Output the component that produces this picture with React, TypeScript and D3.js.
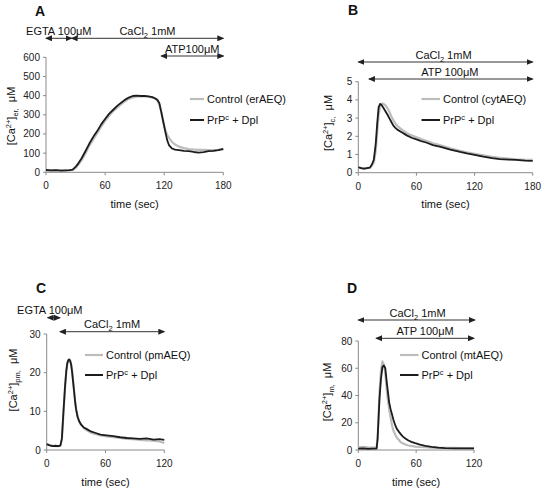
import React from 'react';
import * as d3 from 'd3';

// ---------- DATA ----------
// Panel A: ER calcium
const timeA = [0, 5, 10, 15, 20, 24, 27, 30, 33, 36, 40, 44, 48, 52, 56, 60, 64, 68, 72, 76, 80, 84, 88, 92, 96, 100, 104, 108, 111, 113, 115, 117, 119, 121, 123, 125, 128, 131, 135, 140, 145, 150, 155, 160, 165, 170, 175, 180];
const prpA = [12, 10, 11, 9, 10, 11, 14, 28, 48, 72, 110, 150, 185, 215, 250, 278, 305, 325, 345, 362, 378, 390, 398, 400, 398, 399, 396, 392, 385, 378, 362, 315, 265, 215, 168, 140, 124, 118, 116, 112, 110, 106, 103, 105, 110, 112, 116, 122];
const controlA = [10, 9, 10, 10, 9, 10, 12, 22, 40, 62, 98, 138, 172, 204, 238, 268, 295, 318, 336, 354, 370, 383, 391, 395, 396, 396, 394, 390, 384, 375, 355, 315, 265, 222, 195, 178, 158, 145, 134, 126, 121, 119, 117, 117, 116, 116, 117, 120];

// Panel B: cytosolic calcium
const timeB = [0, 3, 6, 9, 12, 14, 16, 18, 19.5, 21, 22.5, 24, 26, 28, 30, 32, 34, 36, 38, 40, 43, 46, 50, 55, 60, 65, 70, 77, 85, 95, 105, 112, 120, 129, 138, 146, 155, 163, 172, 180];
const prpB = [0.3, 0.25, 0.22, 0.25, 0.28, 0.45, 0.7, 1.6, 2.7, 3.6, 3.78, 3.72, 3.55, 3.38, 3.2, 3.0, 2.8, 2.6, 2.48, 2.38, 2.28, 2.18, 2.05, 1.92, 1.83, 1.74, 1.66, 1.52, 1.42, 1.27, 1.14, 1.06, 0.98, 0.88, 0.8, 0.75, 0.72, 0.7, 0.66, 0.65];
const controlB = [0.3, 0.25, 0.22, 0.25, 0.28, 0.38, 0.55, 1.2, 2.2, 3.2, 3.65, 3.8, 3.78, 3.7, 3.55, 3.35, 3.1, 2.9, 2.72, 2.58, 2.45, 2.32, 2.18, 2.05, 1.95, 1.85, 1.76, 1.62, 1.5, 1.34, 1.2, 1.12, 1.04, 0.95, 0.87, 0.82, 0.78, 0.74, 0.71, 0.7];

// Panel C: plasma-membrane domain calcium
const timeC = [0, 3, 6, 9, 12, 14, 15.5, 17, 18.7, 20, 21, 22, 23, 24, 25, 26, 27, 28, 29, 30, 31.5, 33, 35, 38, 41, 45, 50, 55, 61, 68, 75, 82, 88, 95, 102, 109, 115, 120];
const prpC = [1.5, 1.2, 1.0, 1.1, 1.0, 1.2, 3, 9.5, 16.4, 20.5, 22.4, 23.2, 23.4, 23.0, 22, 20, 17.5, 15, 12.5, 10.5, 8.6, 7.5, 6.6, 5.8, 5.4, 4.8, 4.4, 4.0, 3.8, 3.6, 3.3, 3.1, 3.0, 2.9, 3.0, 2.7, 2.8, 2.6];
const controlC = [1.5, 1.3, 1.1, 1.0, 1.0, 1.1, 2.6, 9.0, 16, 20.3, 22.3, 23.2, 23.4, 23.1, 22.2, 20.3, 17.8, 15.2, 12.6, 10.6, 8.7, 7.5, 6.5, 5.6, 5.1, 4.5, 4.1, 3.8, 3.5, 3.3, 3.1, 2.9, 2.8, 2.6, 2.5, 2.4, 2.2, 1.8];

// Panel D: mitochondrial calcium
const timeD = [0, 5, 10, 15, 19, 20, 21, 22, 23.5, 25, 26.5, 28, 29.8, 31, 32, 33.5, 35, 36.5, 38.4, 40, 42, 43.6, 46, 48.8, 52, 55, 59, 64, 69.5, 76, 83, 90, 100, 110, 120];
const prpD = [1, 1.2, 0.8, 1, 1, 8, 23, 38, 52, 61, 62, 60, 48, 41, 35, 30, 26, 22, 18, 15.5, 13.5, 12, 10, 8.5, 7, 6, 5, 4, 3, 2.3, 1.7, 1.4, 1.2, 1.2, 1.2];
const controlD = [2, 2.3, 2, 1.8, 2, 9, 25, 42, 58, 65, 63, 56, 42, 35, 30, 24, 18, 14, 11, 9, 7.5, 6, 5, 4, 3.3, 3, 2.5, 2.2, 2, 1.8, 1.6, 1.5, 1.6, 1.4, 1.3];

// Ticks
const xTicksA = [0, 60, 120, 180];
const yTicksA = [0, 100, 200, 300, 400, 500, 600];
const xTicksB = [0, 60, 120, 180];
const yTicksB = [0, 1, 2, 3, 4, 5];
const xTicksC = [0, 60, 120];
const yTicksC = [0, 10, 20, 30];
const xTicksD = [0, 60, 120];
const yTicksD = [0, 20, 40, 60, 80];

// Treatment annotations (time ranges, seconds)
const treatmentsA = [
  { label: 'EGTA 100μM', from: 0, to: 26, row: 0 },
  { label: 'CaCl_2 1mM', from: 26, to: 180, row: 0 },
  { label: 'ATP100μM', from: 117, to: 180, row: 1 },
];
const treatmentsB = [
  { label: 'CaCl_2 1mM', from: 0, to: 180, row: 0 },
  { label: 'ATP 100μM', from: 11, to: 180, row: 1 },
];
const treatmentsC = [
  { label: 'EGTA 100μM', from: 1, to: 13.5, row: 0 },
  { label: 'CaCl_2 1mM', from: 13.5, to: 120, row: 1 },
];
const treatmentsD = [
  { label: 'CaCl_2 1mM', from: 0, to: 121, row: 0 },
  { label: 'ATP 100μM', from: 18.5, to: 120, row: 1 },
];

const legendControl = ['Control (erAEQ)', 'Control (cytAEQ)', 'Control (pmAEQ)', 'Control (mtAEQ)'];
const legendPrp = 'PrP^c + Dpl';
const yLabels = ['[Ca^{2+}]_{er,}  μM', '[Ca^{2+}]_{c,}  μM', '[Ca^{2+}]_{pm,}  μM', '[Ca^{2+}]_{m,}  μM'];
const letters = ['A', 'B', 'C', 'D'];
const xLabel = 'time (sec)';

// ---------- LAYOUT ----------
const FONT = '"Liberation Sans", Arial, Helvetica, sans-serif';
const GRAY = '#bcbcbc';
const BLACK = '#1c1c1c';
const AXIS = '#8a8a8a';

type Layout = {
  left: number; right: number; bottom: number; top: number;
  letterX: number; letterY: number;
  ylabX: number; ylabY: number;
  xlabY: number;
  legX1: number; legX2: number; legY1: number; legY2: number;
  rowY: number[]; textDx: number[];
};

const layouts: Layout[] = [
  { left: 46, right: 223.3, bottom: 172.3, top: 57.3, letterX: 35, letterY: 16, ylabX: 15, ylabY: 116, xlabY: 208,
    legX1: 190, legX2: 204, legY1: 99, legY2: 120, rowY: [38.3, 56], textDx: [0, 0, 0] },
  { left: 358.3, right: 532.7, bottom: 172.7, top: 81.7, letterX: 348, letterY: 15, ylabX: 332, ylabY: 123, xlabY: 208,
    legX1: 421.5, legX2: 440, legY1: 99, legY2: 120, rowY: [62, 79], textDx: [-2, -1] },
  { left: 46.7, right: 164.3, bottom: 450, top: 334, letterX: 36, letterY: 293, ylabX: 17, ylabY: 380, xlabY: 486,
    legX1: 85, legX2: 103, legY1: 355, legY2: 375, rowY: [317.7, 331.7], textDx: [-4, 0] },
  { left: 358.3, right: 474, bottom: 450, top: 341, letterX: 347, letterY: 293, ylabX: 331, ylabY: 392, xlabY: 486,
    legX1: 400, legX2: 418.5, legY1: 355, legY2: 375, rowY: [320, 338.3], textDx: [1, 0] },
];

type Seg = { text: string; mode: 'n' | 'sup' | 'sub' };
function parseRich(s: string): Seg[] {
  const segs: Seg[] = [];
  let buf = '';
  let i = 0;
  const flush = () => { if (buf) { segs.push({ text: buf, mode: 'n' }); buf = ''; } };
  while (i < s.length) {
    const c = s[i];
    if (c === '^' || c === '_') {
      flush();
      const mode = c === '^' ? 'sup' : 'sub';
      let t = '';
      if (s[i + 1] === '{') {
        const j = s.indexOf('}', i + 2);
        t = s.slice(i + 2, j);
        i = j + 1;
      } else {
        t = s[i + 1];
        i += 2;
      }
      segs.push({ text: t, mode });
    } else {
      buf += c;
      i++;
    }
  }
  flush();
  return segs;
}

function rich(s: string, size: number) {
  const segs = parseRich(s);
  let offset = 0;
  return segs.map((seg, i) => {
    const target = seg.mode === 'sup' ? -size * 0.38 : seg.mode === 'sub' ? size * 0.28 : 0;
    const dy = target - offset;
    offset = target;
    return (
      <tspan key={i} dy={dy} fontSize={seg.mode === 'n' ? size : size * 0.68} style={{ whiteSpace: 'pre' }}>
        {seg.text}
      </tspan>
    );
  });
}

type PanelProps = {
  idx: number;
  t: number[]; control: number[]; prp: number[];
  xMax: number; yMax: number;
  xTicks: number[]; yTicks: number[];
  treatments: { label: string; from: number; to: number; row: number }[];
};

function Panel({ idx, t, control, prp, xMax, yMax, xTicks, yTicks, treatments }: PanelProps) {
  const L = layouts[idx];
  const x = d3.scaleLinear().domain([0, xMax]).range([L.left, L.right]);
  const y = d3.scaleLinear().domain([0, yMax]).range([L.bottom, L.top]);
  const line = d3.line<number>().x((_, i) => x(t[i])).y((v) => y(v));
  const cx = (L.left + L.right) / 2;
  return (
    <g fontFamily={FONT}>
      <text x={L.letterX} y={L.letterY} fontSize={14} fontWeight="bold" fill="#111">{letters[idx]}</text>

      {treatments.map((tr, i) => {
        const yy = L.rowY[tr.row];
        const mid = (x(tr.from) + x(tr.to)) / 2 + (L.textDx[i] || 0);
        return (
          <g key={i}>
            <line x1={x(tr.from)} x2={x(tr.to)} y1={yy} y2={yy} stroke="#333" strokeWidth={1}
              markerStart="url(#arrowS)" markerEnd="url(#arrowE)" />
            <text x={mid} y={yy - 3.5} fontSize={11} textAnchor="middle" fill="#111">{rich(tr.label, 11)}</text>
          </g>
        );
      })}

      <line x1={L.left} x2={L.left} y1={L.bottom} y2={L.top} stroke={AXIS} strokeWidth={1} />
      <line x1={L.left} x2={L.right} y1={L.bottom} y2={L.bottom} stroke={AXIS} strokeWidth={1} />
      {yTicks.map((v) => (
        <g key={'y' + v}>
          <line x1={L.left - 3} x2={L.left} y1={y(v)} y2={y(v)} stroke={AXIS} strokeWidth={1} />
          <text x={L.left - 6} y={y(v) + 3.5} fontSize={10} textAnchor="end" fill="#222">{v}</text>
        </g>
      ))}
      {xTicks.map((v) => (
        <g key={'x' + v}>
          <line x1={x(v)} x2={x(v)} y1={L.bottom} y2={L.bottom + 3} stroke={AXIS} strokeWidth={1} />
          <text x={x(v)} y={L.bottom + 17} fontSize={10} textAnchor="middle" fill="#222">{v}</text>
        </g>
      ))}

      <path d={line(control) || ''} fill="none" stroke={GRAY} strokeWidth={2.2} strokeLinejoin="round" />
      <path d={line(prp) || ''} fill="none" stroke={BLACK} strokeWidth={1.8} strokeLinejoin="round" />

      <line x1={L.legX1} x2={L.legX2} y1={L.legY1} y2={L.legY1} stroke={GRAY} strokeWidth={2.2} />
      <text x={L.legX2 + 3} y={L.legY1 + 4} fontSize={11} fill="#111">{legendControl[idx]}</text>
      <line x1={L.legX1} x2={L.legX2} y1={L.legY2} y2={L.legY2} stroke={BLACK} strokeWidth={2} />
      <text x={L.legX2 + 3} y={L.legY2 + 4} fontSize={11} fill="#111">{rich(legendPrp, 11)}</text>

      <text transform={`translate(${L.ylabX},${L.ylabY}) rotate(-90)`} fontSize={11} textAnchor="middle" fill="#111">
        {rich(yLabels[idx], 11)}
      </text>
      <text x={cx} y={L.xlabY} fontSize={11} textAnchor="middle" fill="#111">{xLabel}</text>
    </g>
  );
}

export default function App() {
  return (
    <svg width={544} height={491} style={{ position: 'absolute', left: 0, top: 0, background: '#fff' }}>
      <defs>
        <marker id="arrowE" markerWidth={7} markerHeight={6} refX={6} refY={3} orient="auto" markerUnits="userSpaceOnUse">
          <path d="M0,0 L7,3 L0,6 Z" fill="#222" />
        </marker>
        <marker id="arrowS" markerWidth={7} markerHeight={6} refX={1} refY={3} orient="auto" markerUnits="userSpaceOnUse">
          <path d="M7,0 L0,3 L7,6 Z" fill="#222" />
        </marker>
      </defs>
      <rect x={0} y={0} width={544} height={491} fill="#fff" />
      <Panel idx={0} t={timeA} control={controlA} prp={prpA} xMax={180} yMax={600} xTicks={xTicksA} yTicks={yTicksA} treatments={treatmentsA} />
      <Panel idx={1} t={timeB} control={controlB} prp={prpB} xMax={180} yMax={5} xTicks={xTicksB} yTicks={yTicksB} treatments={treatmentsB} />
      <Panel idx={2} t={timeC} control={controlC} prp={prpC} xMax={120} yMax={30} xTicks={xTicksC} yTicks={yTicksC} treatments={treatmentsC} />
      <Panel idx={3} t={timeD} control={controlD} prp={prpD} xMax={120} yMax={80} xTicks={xTicksD} yTicks={yTicksD} treatments={treatmentsD} />
    </svg>
  );
}
